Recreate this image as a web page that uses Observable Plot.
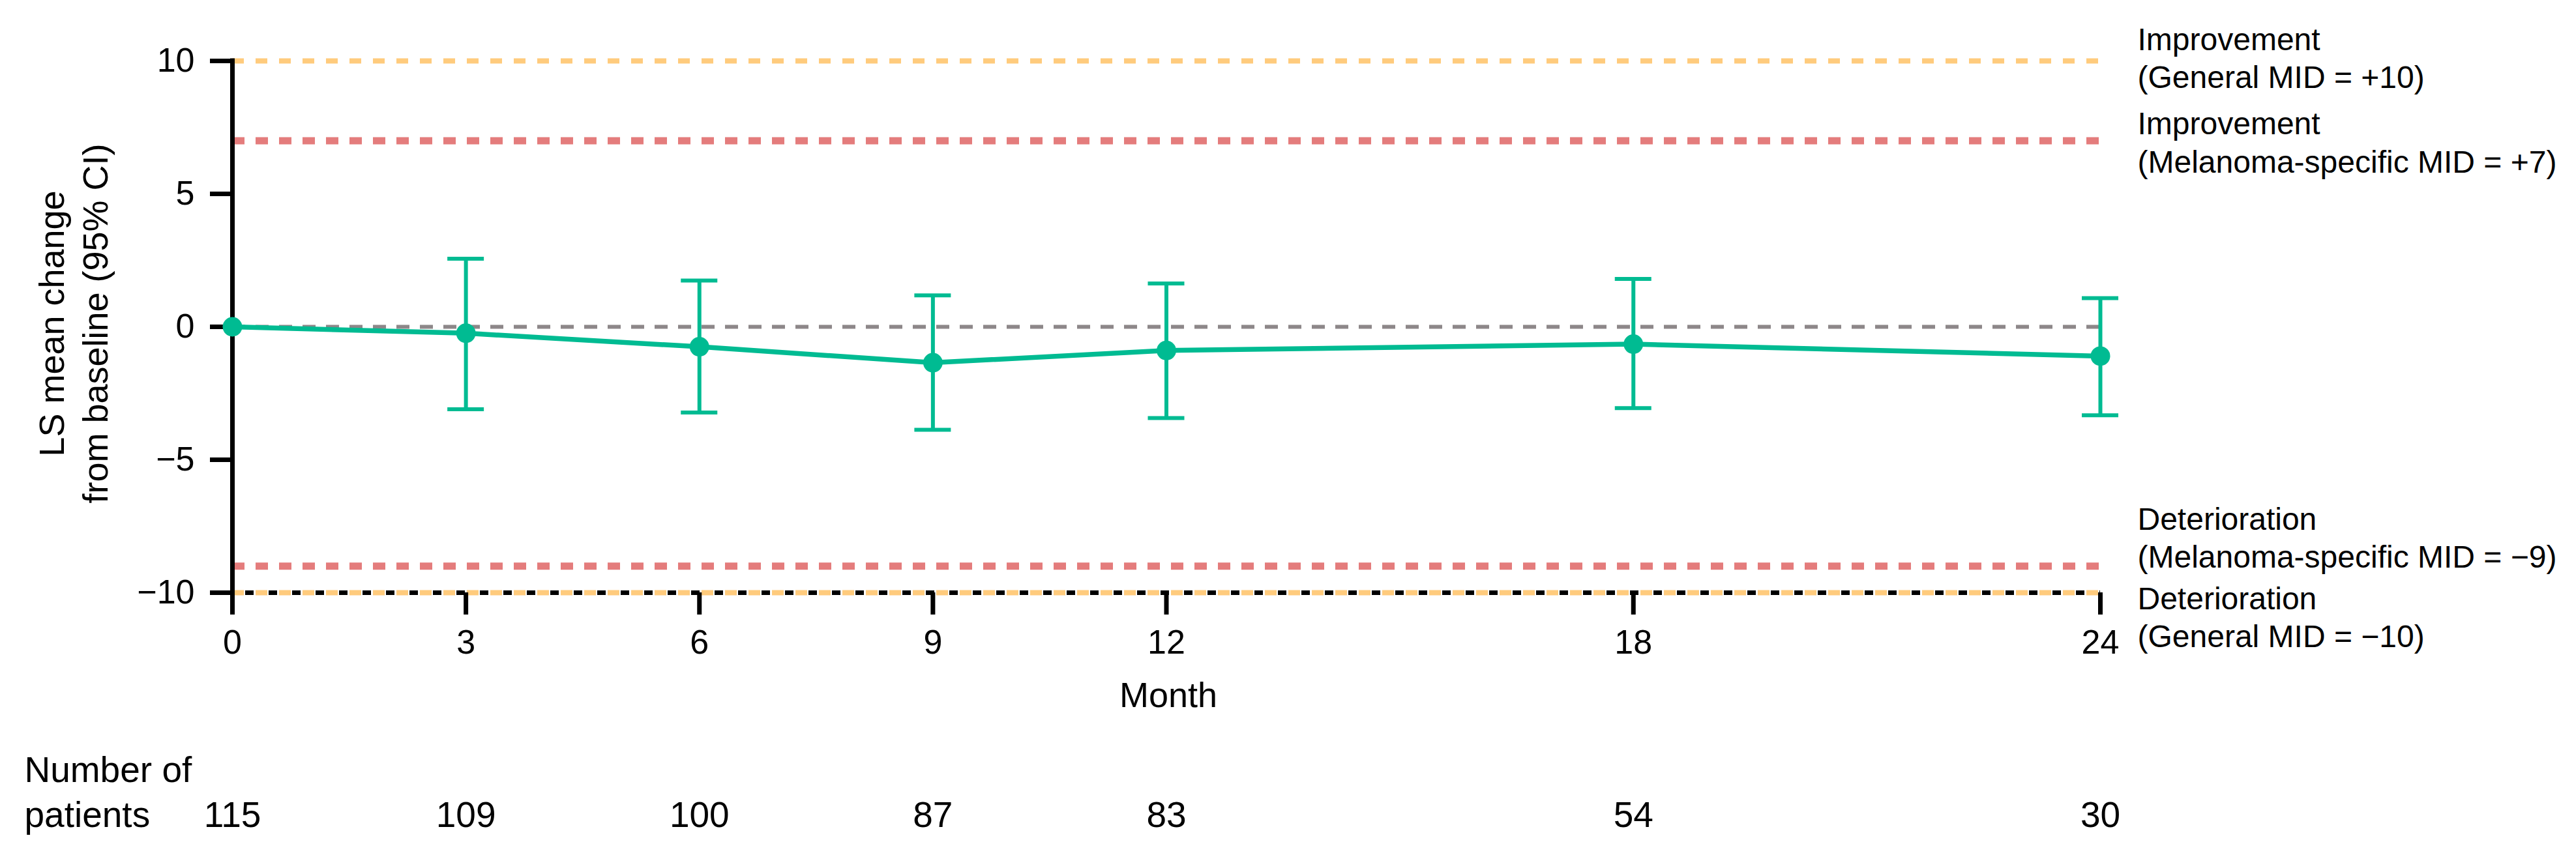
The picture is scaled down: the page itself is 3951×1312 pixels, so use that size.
<!DOCTYPE html>
<html><head><meta charset="utf-8">
<script src="https://cdn.jsdelivr.net/npm/d3@7"></script>
<script src="https://cdn.jsdelivr.net/npm/@observablehq/plot@0.6"></script>
<style>body{margin:0;background:#fff}</style>
</head><body><div id="chart"></div>
<script>
const months = [0, 3, 6, 9, 12, 18, 24];
const lsMean = [0, -0.24, -0.75, -1.35, -0.89, -0.65, -1.10];
const ciUpper = [null, 2.56, 1.74, 1.18, 1.63, 1.80, 1.08];
const ciLower = [null, -3.10, -3.22, -3.87, -3.43, -3.06, -3.33];
const patients = [115, 109, 100, 87, 83, 54, 30];
const yTicks = [-10, -5, 0, 5, 10];
const thresholds = [10, 7, -9, -10];
const thresholdLabels = [
  "Improvement\n(General MID = +10)",
  "Improvement\n(Melanoma-specific MID = +7)",
  "Deterioration\n(Melanoma-specific MID = \u22129)",
  "Deterioration\n(General MID = \u221210)"
];
const yLabel = "LS mean change\nfrom baseline (95% CI)";
const xLabel = "Month";
const nLabel = "Number of\npatients";

const rows = months.map((m, i) => ({month: m, mean: lsMean[i], hi: ciUpper[i], lo: ciLower[i], n: patients[i]}));
const bars = rows.filter(d => d.hi != null);

const teal = "#00bb92", yellow = "#ffcb7d", red = "#e47c7c", gray = "#8d8789";
const xStart = () => months[0], xEnd = () => months[months.length - 1];

const chart = Plot.plot({
  width: 3951,
  height: 1312,
  marginLeft: 356,
  marginRight: 730,
  marginTop: 93,
  marginBottom: 403,
  x: {domain: [0, 24]},
  y: {domain: [-10, 10]},
  style: {fontFamily: "'Liberation Sans', Arial, sans-serif", fontSize: "52px", color: "black", background: "white", overflow: "visible"},
  marks: [
    Plot.ruleY([thresholds[0]], {x1: xStart, x2: xEnd, stroke: yellow, strokeWidth: 8, strokeDasharray: "18 18"}),
    Plot.ruleY([thresholds[1], thresholds[2]], {x1: xStart, x2: xEnd, stroke: red, strokeWidth: 11, strokeDasharray: "19 17"}),
    Plot.ruleY([thresholds[3]], {x1: xStart, x2: xEnd, stroke: yellow, strokeWidth: 8, strokeDasharray: "18 18"}),
    Plot.ruleY([thresholds[3]], {x1: xStart, x2: xEnd, stroke: "black", strokeWidth: 7, strokeDasharray: "13 23", strokeDashoffset: 16}),
    Plot.ruleY([0], {x1: xStart, x2: xEnd, stroke: gray, strokeWidth: 6, strokeDasharray: "20 16"}),
    Plot.axisY({ticks: yTicks, tickSize: 34, tickPadding: 24, fontSize: 52, strokeWidth: 7, label: null}),
    Plot.axisX({ticks: months, tickSize: 34, tickPadding: 23, fontSize: 52, strokeWidth: 7, label: null, tickFormat: d => String(d)}),
    Plot.ruleX([0], {y1: () => -10, y2: () => 10, stroke: "black", strokeWidth: 7, strokeLinecap: "square"}),
    Plot.ruleX(bars, {x: "month", y1: "lo", y2: "hi", stroke: teal, strokeWidth: 6}),
    Plot.ruleY(bars, {y: "hi", x1: "month", x2: "month", insetLeft: -28, insetRight: -28, stroke: teal, strokeWidth: 6}),
    Plot.ruleY(bars, {y: "lo", x1: "month", x2: "month", insetLeft: -28, insetRight: -28, stroke: teal, strokeWidth: 6}),
    Plot.line(rows, {x: "month", y: "mean", stroke: teal, strokeWidth: 7.5}),
    Plot.dot(rows, {x: "month", y: "mean", r: 15, fill: teal}),
    Plot.text([thresholdLabels[0]], {y: () => thresholds[0], frameAnchor: "right", text: d => d, textAnchor: "start", dx: 57, dy: -6, lineAnchor: "middle", lineHeight: 1.21, fontSize: 48, fill: "black"}),
    Plot.text([thresholdLabels[1]], {y: () => thresholds[1], frameAnchor: "right", text: d => d, textAnchor: "start", dx: 57, dy: 1, lineAnchor: "middle", lineHeight: 1.21, fontSize: 48, fill: "black"}),
    Plot.text([thresholdLabels[2]], {y: () => thresholds[2], frameAnchor: "right", text: d => d, textAnchor: "start", dx: 57, dy: -45, lineAnchor: "middle", lineHeight: 1.21, fontSize: 48, fill: "black"}),
    Plot.text([thresholdLabels[3]], {y: () => thresholds[3], frameAnchor: "right", text: d => d, textAnchor: "start", dx: 57, dy: 36, lineAnchor: "middle", lineHeight: 1.21, fontSize: 48, fill: "black"}),
    Plot.text([yLabel], {frameAnchor: "left", text: d => d, rotate: -90, textAnchor: "middle", dx: -246, dy: -5, lineAnchor: "middle", lineHeight: 1.24, fontSize: 54, fill: "black"}),
    Plot.text([xLabel], {frameAnchor: "bottom", text: d => d, dx: 3, dy: 175, lineAnchor: "bottom", fontSize: 54, fill: "black"}),
    Plot.text([nLabel], {frameAnchor: "bottom-left", text: d => d, textAnchor: "start", dx: -319, dy: 359, lineAnchor: "bottom", lineHeight: 1.24, fontSize: 55, fill: "black"}),
    Plot.text(rows, {x: "month", text: "n", frameAnchor: "bottom", dy: 359, lineAnchor: "bottom", fontSize: 55, fill: "black"})
  ]
});
document.getElementById("chart").append(chart);
</script>
</body></html>
